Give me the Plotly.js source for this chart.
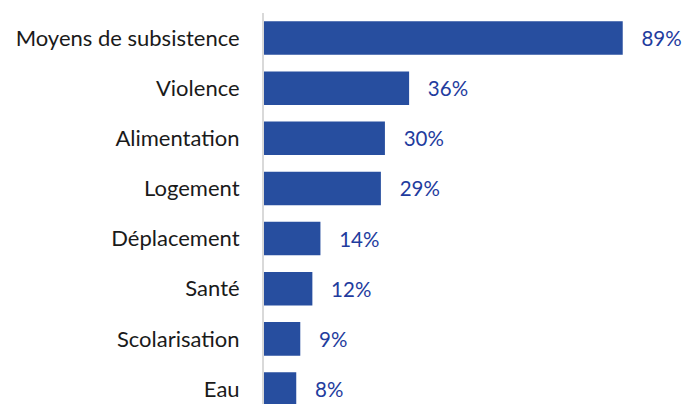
<!DOCTYPE html>
<html><head><meta charset="utf-8">
<script src="https://cdn.plot.ly/plotly-3.0.1.min.js"></script>
<style>html,body{margin:0;padding:0;background:#fff}</style>
</head><body>
<div id="chart" style="width:684px;height:404px"></div>
<script>
const categories = ["Moyens de subsistence","Violence","Alimentation","Logement","Déplacement","Santé","Scolarisation","Eau"];
const values = [89, 36, 30, 29, 14, 12, 9, 8];

const trace = {
  type: 'bar',
  orientation: 'h',
  x: values,
  y: categories,
  marker: {color: '#274E9F'},
  text: values.map(v => '\u00a0\u00a0\u00a0' + v + '%'),
  textposition: 'outside',
  textfont: {family: 'Lato, "Open Sans", sans-serif', size: 20.5, color: '#1F3C9E'},
  cliponaxis: false,
  hoverinfo: 'none'
};

const layout = {
  width: 684, height: 404,
  margin: {l: 264, r: 0, t: 13, b: 0},
  paper_bgcolor: '#fff', plot_bgcolor: '#fff',
  showlegend: false,
  bargap: 0.33,
  xaxis: {range: [0, 104.2], visible: false, fixedrange: true},
  yaxis: {
    type: 'category',
    categoryorder: 'array', categoryarray: categories,
    range: [7.3, -0.5],
    showline: true, linecolor: '#D9D9D9', linewidth: 2,
    showgrid: false, zeroline: false, ticks: '',
    ticklabelstandoff: 18,
    tickfont: {family: 'Lato, "Open Sans", sans-serif', size: 22, color: '#1a1a1a'}
  },
  font: {family: 'Lato, "Open Sans", sans-serif'}
};

Plotly.newPlot('chart', [trace], layout, {displayModeBar: false, staticPlot: true});
</script>
</body></html>
